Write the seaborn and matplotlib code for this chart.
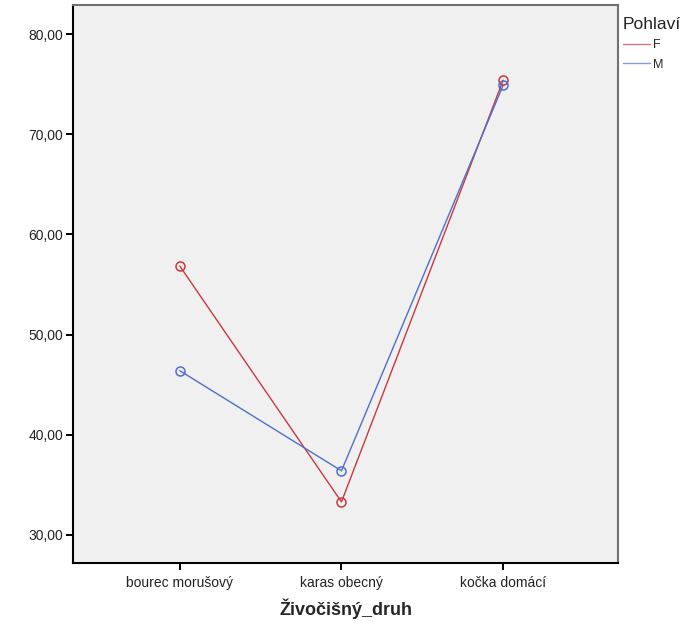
import pandas as pd
import numpy as np
import matplotlib
matplotlib.use("Agg")
import matplotlib.pyplot as plt
import seaborn as sns
from matplotlib.lines import Line2D
from matplotlib.ticker import FuncFormatter

### data
druh = ["bourec morušový", "karas obecný", "kočka domácí"]
prumer_F = [56.85, 33.3, 75.4]
prumer_M = [46.4, 36.4, 74.9]
pohlavi = ["F", "M"]
barvy = {"F": "#c9383d", "M": "#4f6fcb"}
y_ticks = [30, 40, 50, 60, 70, 80]

df = pd.DataFrame({
    "Živočišný_druh": druh * 2,
    "prumer": prumer_F + prumer_M,
    "Pohlaví": ["F"] * 3 + ["M"] * 3,
})

sns.set_style("white")
plt.rcParams["font.family"] = ["Liberation Sans", "DejaVu Sans"]

fig = plt.figure(figsize=(6.84, 6.25), dpi=100)
ax = fig.add_axes([73 / 684, 1 - 562.5 / 625, 545 / 684, 557.5 / 625])
ax.set_facecolor("#f0f0f0")

sns.pointplot(data=df, x="Živočišný_druh", y="prumer", hue="Pohlaví",
              order=druh, hue_order=pohlavi, palette=barvy, errorbar=None,
              markers="o", markersize=6.5, markerfacecolor="none",
              markeredgewidth=1.1, linewidth=1.0, ax=ax, legend=False)

ax.set_xlim(-0.66, 2.71)
ax.set_ylim(27.25, 82.9)
ax.set_yticks(y_ticks)
ax.yaxis.set_major_formatter(FuncFormatter(lambda v, p: f"{v:.2f}".replace(".", ",")))
ax.tick_params(axis="both", direction="out", length=5, width=1.4, color="black",
               labelsize=10, labelcolor="#222222", pad=2, left=True, bottom=True)
ax.tick_params(axis="x", pad=5)
ax.set_ylabel("")
ax.set_xlabel("Živočišný_druh", fontsize=13, fontweight="bold", labelpad=6)

for side in ["left", "bottom"]:
    ax.spines[side].set_color("black")
    ax.spines[side].set_linewidth(1.5)
for side in ["top", "right"]:
    ax.spines[side].set_visible(True)
    ax.spines[side].set_color("#707070")
    ax.spines[side].set_linewidth(1.5)

handles = [Line2D([], [], color=barvy[p], lw=1.0, alpha=0.7) for p in pohlavi]
leg = fig.legend(handles, pohlavi, title="Pohlaví", loc="upper left",
                 bbox_to_anchor=(614 / 684, 1 - 8 / 625), frameon=False,
                 fontsize=9, title_fontsize=12.5, handlelength=2.2,
                 handletextpad=0.2, labelspacing=0.6, borderpad=0.2,
                 alignment="left")
leg.get_title().set_color("#222222")

fig.savefig("out.png", dpi=100)
